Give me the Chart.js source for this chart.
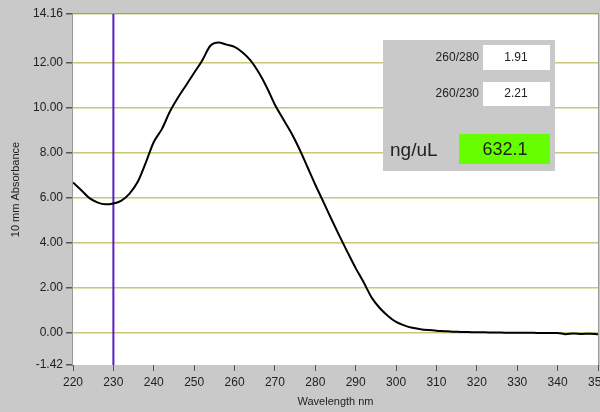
<!DOCTYPE html>
<html>
<head>
<meta charset="utf-8">
<script src="https://cdn.jsdelivr.net/npm/chart.js@4/dist/chart.umd.min.js"></script>
<style>
  html, body { margin: 0; padding: 0; background: #c9c9c9; }
  canvas { display: block; }
</style>
</head>
<body>
<canvas id="chart" width="600" height="412"></canvas>
<script>
// Спектр поглощения, значения (шаг 2 нм)
const wavelengths = [
  220, 222, 224, 226, 228, 230, 232, 234, 236, 238,
  240, 242, 244, 246, 248, 250, 252, 254, 256, 258,
  260, 262, 264, 266, 268, 270, 272, 274, 276, 278,
  280, 282, 284, 286, 288, 290, 292, 294, 296, 298,
  300, 302, 304, 306, 308, 310, 312, 314, 316, 318,
  320, 322, 324, 326, 328, 330, 332, 334, 336, 338,
  340, 342, 344, 346, 348, 350
]
const absorbance = [
  6.68, 6.35, 6.00, 5.80, 5.71, 5.75, 5.88, 6.19, 6.70, 7.55,
  8.48, 9.05, 9.83, 10.45, 11.00, 11.55, 12.10, 12.75, 12.90, 12.80,
  12.70, 12.45, 12.09, 11.56, 10.90, 10.13, 9.51, 8.90, 8.19, 7.39,
  6.58, 5.82, 5.05, 4.30, 3.58, 2.88, 2.24, 1.56, 1.10, 0.76,
  0.49, 0.34, 0.23, 0.17, 0.13, 0.10, 0.08, 0.06, 0.05, 0.04,
  0.03, 0.03, 0.02, 0.02, 0.01, 0.01, 0.01, 0.01, 0.00, 0.00,
  0.00, -0.05, -0.02, -0.04, -0.03, -0.06
]
const yTickValues = [-1.42, 0, 2, 4, 6, 8, 10, 12, 14.16]
const xTickValues = [220, 230, 240, 250, 260, 270, 280, 290, 300, 310, 320, 330, 340, 350]
const markerWavelength = 230

const ratio260280 = "1.91"
const ratio260230 = "2.21"
const concentration = "632.1"

const GRAY_BG = "#c9c9c9"
const GRID = "#c8c878"
const FONT = "'Liberation Sans', Arial, sans-serif"

// Фон, рамка графика и панель с результатами
const panelPlugin = {
  id: "panel",
  beforeDraw(chart) {
    const { ctx, chartArea: a } = chart
    ctx.save()
    ctx.fillStyle = GRAY_BG
    ctx.fillRect(0, 0, chart.width, chart.height)
    ctx.fillStyle = "#ffffff"
    ctx.fillRect(a.left, a.top, a.right - a.left, a.bottom - a.top)
    ctx.restore()
  },
  afterDraw(chart) {
    const { ctx, chartArea: a } = chart
    ctx.save()
    ctx.strokeStyle = "#9a9a9a"
    ctx.lineWidth = 1
    ctx.beginPath()
    ctx.moveTo(a.left - 0.5, a.bottom)
    ctx.lineTo(a.left - 0.5, a.top - 0.5)
    ctx.lineTo(a.right + 0.5, a.top - 0.5)
    ctx.lineTo(a.right + 0.5, a.bottom)
    ctx.stroke()

    // панель
    ctx.fillStyle = GRAY_BG
    ctx.fillRect(383, 40, 172, 131)

    ctx.fillStyle = "#ffffff"
    ctx.fillRect(483, 45, 67, 25)
    ctx.fillRect(483, 82, 67, 24)
    ctx.fillStyle = "#66ff00"
    ctx.fillRect(459, 134, 91, 30)

    ctx.fillStyle = "#222"
    ctx.textBaseline = "middle"
    ctx.font = "12px " + FONT
    ctx.textAlign = "right"
    ctx.fillText("260/280", 479, 58)
    ctx.fillText("260/230", 479, 94)
    ctx.textAlign = "center"
    ctx.fillText(ratio260280, 516, 58)
    ctx.fillText(ratio260230, 516, 94)

    ctx.font = "19px " + FONT
    ctx.textAlign = "left"
    ctx.fillText("ng/uL", 390, 151)
    ctx.font = "18px " + FONT
    ctx.textAlign = "center"
    ctx.fillText(concentration, 505, 150)
    ctx.restore()
  }
}

new Chart(document.getElementById("chart"), {
  type: "line",
  data: {
    datasets: [
      {
        data: wavelengths.map((w, i) => ({ x: w, y: absorbance[i] })),
        borderColor: "#000000",
        borderWidth: 2,
        pointRadius: 0,
        cubicInterpolationMode: "monotone"
      },
      {
        data: [
          { x: markerWavelength, y: yTickValues[0] },
          { x: markerWavelength, y: yTickValues[yTickValues.length - 1] }
        ],
        borderColor: "#5a1ec8",
        borderWidth: 2,
        pointRadius: 0
      }
    ]
  },
  options: {
    responsive: false,
    animation: false,
    layout: { padding: { top: 14, right: 2, left: 0, bottom: 0 } },
    plugins: {
      legend: { display: false },
      tooltip: { enabled: false }
    },
    scales: {
      x: {
        type: "linear",
        min: 220,
        max: 350,
        afterBuildTicks: s => { s.ticks = xTickValues.map(v => ({ value: v })) },
        afterFit: s => { s.height = 47; s.paddingLeft = 0; s.paddingRight = 0 },
        border: { display: false },
        grid: {
          drawOnChartArea: false,
          tickLength: 6,
          tickColor: "#555"
        },
        ticks: {
          padding: 4,
          maxRotation: 0,
          autoSkip: false,
          color: "#222",
          font: { family: FONT, size: 12 }
        },
        title: {
          display: true,
          text: "Wavelength nm",
          color: "#222",
          font: { family: FONT, size: 11 },
          padding: { top: 0, bottom: 3 }
        }
      },
      y: {
        min: yTickValues[0],
        max: yTickValues[yTickValues.length - 1],
        afterBuildTicks: s => { s.ticks = yTickValues.map(v => ({ value: v })) },
        afterFit: s => { s.width = 73; s.paddingTop = 0; s.paddingBottom = 0 },
        border: { display: false },
        grid: {
          color: ctx => (ctx.tick && ctx.tick.value === yTickValues[0]) ? "rgba(0,0,0,0)" : GRID,
          lineWidth: 1.5,
          tickLength: 7,
          tickColor: "#555"
        },
        ticks: {
          padding: 3,
          autoSkip: false,
          color: "#222",
          font: { family: FONT, size: 12 },
          callback: v => v.toFixed(2)
        },
        title: {
          display: true,
          text: "10 mm Absorbance",
          color: "#222",
          font: { family: FONT, size: 11 },
          padding: { top: 9, bottom: 0 }
        }
      }
    }
  },
  plugins: [panelPlugin]
})
</script>
</body>
</html>
